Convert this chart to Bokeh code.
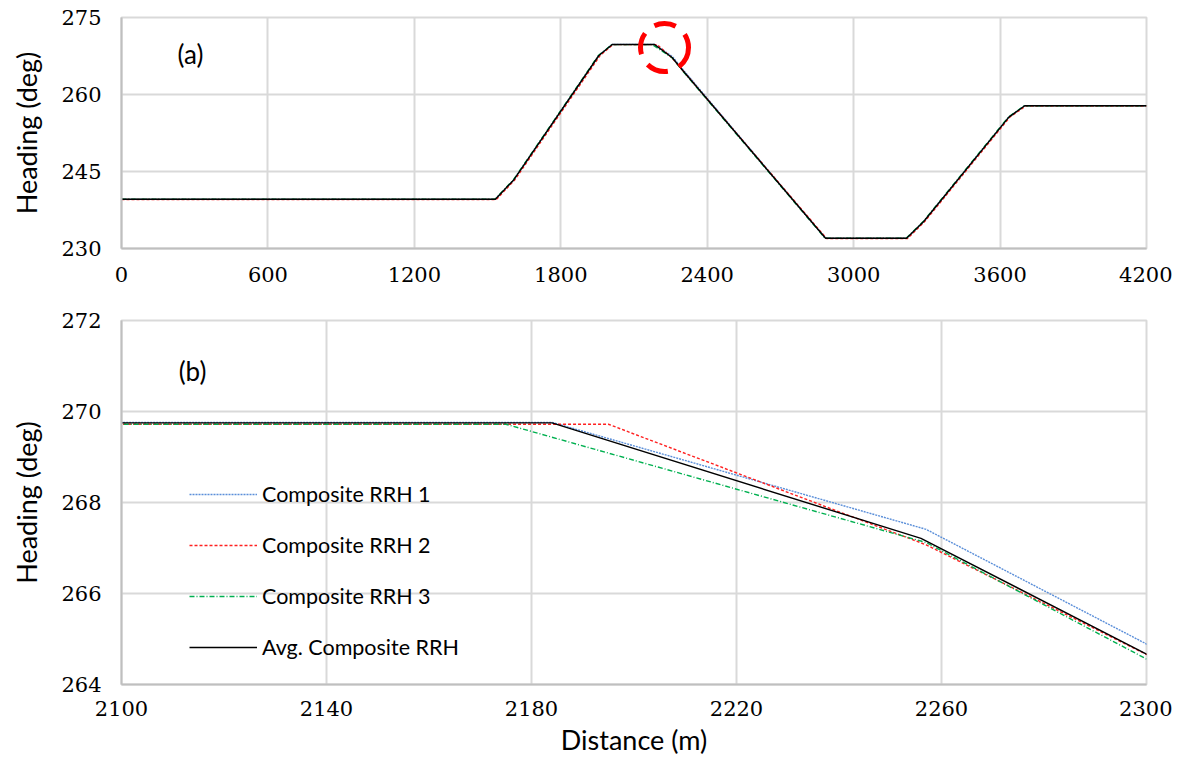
from bokeh.plotting import figure
from bokeh.layouts import column
from bokeh.models import Legend, LegendItem, Label, FixedTicker
from bokeh.embed import file_html
from bokeh.resources import INLINE

# ---------------- data ----------------
dist_rrh1 = [0, 1532, 1608, 1956, 2011, 2184, 2257, 2300, 2885, 3217, 3288, 3636, 3701, 4200]
head_rrh1 = [239.6, 239.6, 243.4, 267.6, 269.76, 269.76, 267.41, 264.89, 232.0, 232.0, 235.3, 255.6, 257.8, 257.8]

dist_rrh2 = [0, 1536, 1612, 1961, 2014, 2195, 2257, 2300, 2889, 3221, 3292, 3640, 3705, 4200]
head_rrh2 = [239.55, 239.55, 243.4, 267.6, 269.72, 269.72, 267.07, 264.66, 231.95, 231.95, 235.3, 255.6, 257.75, 257.75]

dist_rrh3 = [0, 1530, 1606, 1954, 2009, 2175, 2257, 2300, 2883, 3215, 3286, 3634, 3699, 4200]
head_rrh3 = [239.6, 239.6, 243.4, 267.6, 269.72, 269.72, 267.12, 264.56, 232.0, 232.0, 235.3, 255.6, 257.8, 257.8]

dist_avg = [0, 1532, 1608, 1956, 2011, 2184, 2256, 2300, 2885, 3217, 3288, 3636, 3701, 4200]
head_avg = [239.6, 239.6, 243.4, 267.6, 269.75, 269.75, 267.21, 264.67, 232.0, 232.0, 235.3, 255.6, 257.8, 257.8]

series_names = ["Composite RRH 1", "Composite RRH 2", "Composite RRH 3", "Avg. Composite RRH"]

top_xticks = [0, 600, 1200, 1800, 2400, 3000, 3600, 4200]
top_yticks = [230, 245, 260, 275]
bot_xticks = [2100, 2140, 2180, 2220, 2260, 2300]
bot_yticks = [264, 266, 268, 270, 272]

highlight_x = [2225]
highlight_y = [269.15]

# ---------------- styles ----------------
TICK_FONT = "DejaVu Serif"
TITLE_FONT = "Lato"
GRID = "#d9d9d9"
AXIS = "#bfbfbf"

styles = [
    dict(color="#5b8fd9", line_dash="2 1", line_width=1.4),
    dict(color="#ff2020", line_dash="3 2", line_width=1.4),
    dict(color="#00b050", line_dash="5 2 1 2", line_width=1.4),
    dict(color="#000000", line_dash="solid", line_width=1.4),
]
data = [(dist_rrh1, head_rrh1), (dist_rrh2, head_rrh2), (dist_rrh3, head_rrh3), (dist_avg, head_avg)]


def style_fig(p, xticks, yticks):
    p.xaxis.ticker = FixedTicker(ticks=xticks)
    p.yaxis.ticker = FixedTicker(ticks=yticks)
    for ax in (p.xaxis[0], p.yaxis[0]):
        ax.major_tick_line_color = None
        ax.minor_tick_line_color = None
        ax.major_tick_out = 0
        ax.major_tick_in = 0
        ax.minor_tick_out = 0
        ax.axis_line_color = AXIS
        ax.axis_line_width = 2
        ax.major_label_text_font = TICK_FONT
        ax.major_label_text_font_size = "21px"
        ax.major_label_text_color = "#000000"
        ax.axis_label_text_font = TITLE_FONT
        ax.axis_label_text_font_size = "27px"
        ax.axis_label_text_font_style = "normal"
        ax.axis_label_text_color = "#000000"
    p.xgrid.grid_line_color = GRID
    p.ygrid.grid_line_color = GRID
    p.xgrid.grid_line_width = 2
    p.ygrid.grid_line_width = 2
    p.outline_line_color = GRID
    p.outline_line_width = 2
    p.background_fill_color = "white"
    p.border_fill_color = "white"


# ---------------- top figure ----------------
p1 = figure(width=1172, height=298, output_backend="svg", toolbar_location=None,
            x_range=(0, 4200), y_range=(230, 275),
            min_border_left=121, min_border_right=26, min_border_top=17, min_border_bottom=50)
style_fig(p1, top_xticks, top_yticks)
p1.yaxis.axis_label = "Heading (deg)"
p1.yaxis.major_label_standoff = 20
p1.yaxis.axis_label_standoff = 15
p1.xaxis.major_label_standoff = 18

for (xs, ys), st in zip(data, styles):
    p1.line(xs, ys, **st)

p1.scatter(highlight_x, highlight_y, marker="circle", size=48, fill_color=None,
           line_color="#ff0000", line_width=5, line_dash="22 12")

p1.add_layout(Label(x=69, y=195, x_units="screen", y_units="screen", text="(a)",
                    text_font=TITLE_FONT, text_font_size="26px", text_baseline="middle",
                    text_align="center", text_color="#000000"))

# ---------------- bottom figure ----------------
p2 = figure(width=1172, height=460, output_backend="svg", toolbar_location=None,
            x_range=(2100, 2300), y_range=(264, 272),
            min_border_left=119, min_border_right=26, min_border_top=22, min_border_bottom=74)
style_fig(p2, bot_xticks, bot_yticks)
p2.yaxis.axis_label = "Heading (deg)"
p2.xaxis.axis_label = "Distance (m)"
p2.yaxis.major_label_standoff = 20
p2.yaxis.axis_label_standoff = 15
p2.xaxis.major_label_standoff = 16
p2.xaxis.axis_label_standoff = 4

renderers = []
for (xs, ys), st in zip(data, styles):
    renderers.append(p2.line(xs, ys, **st))

p2.add_layout(Label(x=71, y=314, x_units="screen", y_units="screen", text="(b)",
                    text_font=TITLE_FONT, text_font_size="26px", text_baseline="middle",
                    text_align="center", text_color="#000000"))

legend = Legend(items=[LegendItem(label=n, renderers=[r]) for n, r in zip(series_names, renderers)],
                location=(68, 24), orientation="vertical",
                glyph_width=68, glyph_height=24, label_height=24, label_standoff=5,
                spacing=25, padding=0, margin=0,
                label_text_font=TITLE_FONT, label_text_font_size="21.5px",
                label_text_color="#000000",
                border_line_color=None, background_fill_alpha=0)
p2.add_layout(legend, "center")

layout = column(p1, p2, spacing=0)

open("out.html", "w").write(file_html(layout, INLINE))
